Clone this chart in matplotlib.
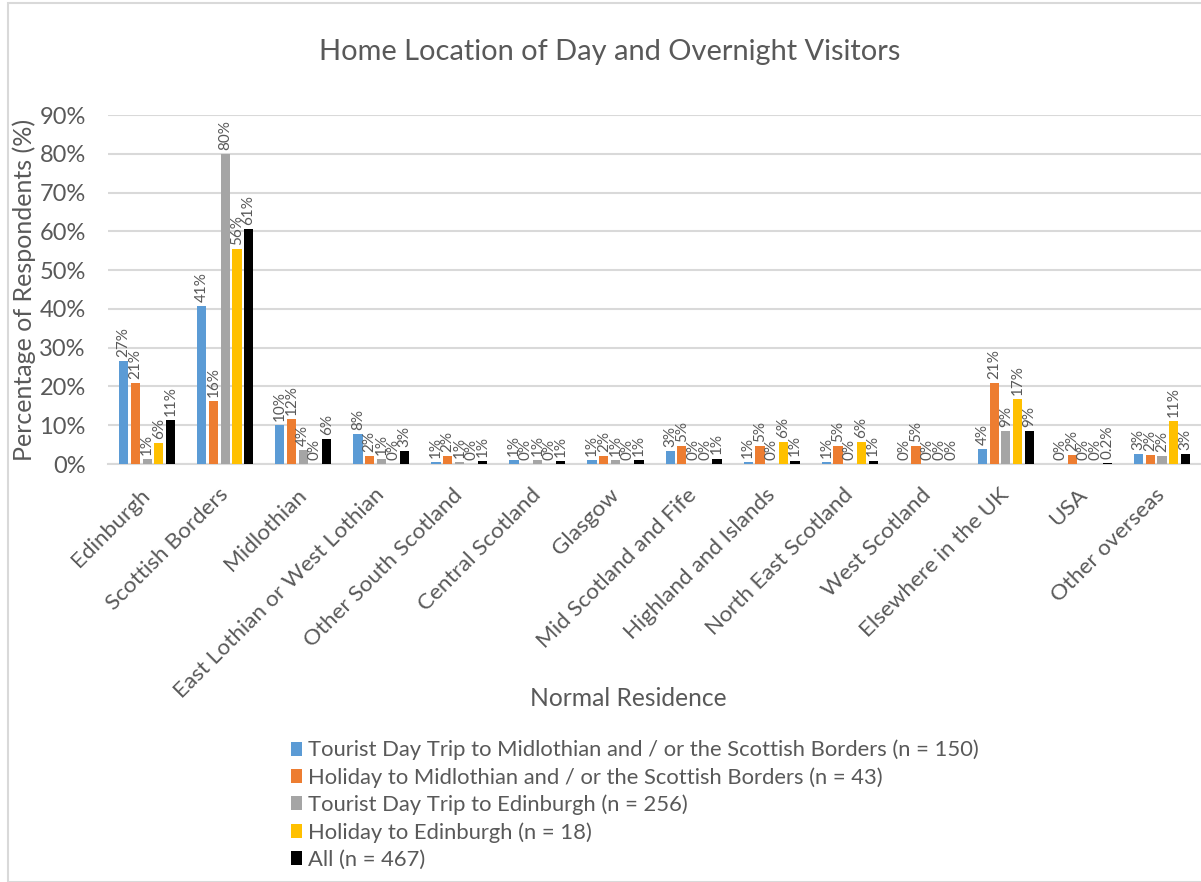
import numpy as np
import matplotlib.pyplot as plt
from matplotlib.patches import Rectangle

plt.rcParams['font.family'] = ['Lato', 'DejaVu Sans']

categories = ['Edinburgh', 'Scottish Borders', 'Midlothian', 'East Lothian or West Lothian',
              'Other South Scotland', 'Central Scotland', 'Glasgow', 'Mid Scotland and Fife',
              'Highland and Islands', 'North East Scotland', 'West Scotland', 'Elsewhere in the UK',
              'USA', 'Other overseas']

day_mid_borders = [26.6, 40.7, 10.0, 7.8, 0.6, 1.1, 1.1, 3.3, 0.6, 0.6, 0.0, 3.9, 0.0, 2.6]
hol_mid_borders = [20.9, 16.3, 11.6, 2.1, 2.1, 0.0, 2.1, 4.7, 4.7, 4.7, 4.7, 20.9, 2.3, 2.3]
day_edinburgh = [1.2, 80.0, 3.7, 1.2, 0.6, 1.1, 1.1, 0.0, 0.0, 0.0, 0.0, 8.6, 0.0, 2.0]
hol_edinburgh = [5.5, 55.5, 0.0, 0.0, 0.0, 0.0, 0.0, 0.0, 5.6, 5.6, 0.0, 16.7, 0.0, 11.1]
all_visitors = [11.3, 60.6, 6.4, 3.4, 0.7, 0.7, 1.1, 1.4, 0.9, 0.9, 0.0, 8.6, 0.2, 2.6]

series_names = ['Tourist Day Trip to Midlothian and / or the Scottish Borders (n = 150)',
                'Holiday to Midlothian and / or the Scottish Borders (n = 43)',
                'Tourist Day Trip to Edinburgh (n = 256)',
                'Holiday to Edinburgh (n = 18)',
                'All (n = 467)']
colors = ['#5b9bd5', '#ed7d31', '#a5a5a5', '#ffc000', '#000000']

series = [day_mid_borders, hol_mid_borders, day_edinburgh, hol_edinburgh, all_visitors]
text_col = '#595959'


def fmt(v):
    if 0 < v < 0.5:
        return '{:.1f}%'.format(v)
    return '{:.0f}%'.format(v)


fig = plt.figure(figsize=(12.01, 8.82), dpi=100)
ax = fig.add_axes([0.09, 0.4739, 0.91, 0.3957])

x = np.arange(len(categories))
step = 0.15
width = 0.118
for i, (vals, name, c) in enumerate(zip(series, series_names, colors)):
    pos = x + (i - 2) * step
    ax.bar(pos, vals, width, color=c, label=name, zorder=3)
    for px, v in zip(pos, vals):
        ax.annotate(fmt(v), (px, v), xytext=(0, 3), textcoords='offset points',
                    rotation=90, ha='center', va='bottom', fontsize=11, color=text_col)

ax.set_xlim(-0.5, len(categories) - 0.5)
ax.set_ylim(0, 90)
ax.set_yticks(np.arange(0, 91, 10))
ax.set_yticklabels(['{}%'.format(t) for t in range(0, 91, 10)], fontsize=17, color=text_col)
ax.yaxis.grid(True, color='#d9d9d9', linewidth=1.5, zorder=0)
ax.set_xticks(x)
ax.set_xticklabels(categories, rotation=45, ha='right', va='center', rotation_mode='anchor',
                   fontsize=16.2, color=text_col)
ax.tick_params(axis='y', length=0, pad=16)
ax.tick_params(axis='x', length=0, pad=20)
for s in ['top', 'right', 'left']:
    ax.spines[s].set_visible(False)
ax.spines['bottom'].set_color('#d9d9d9')
ax.spines['bottom'].set_linewidth(1.5)

ax.set_ylabel('Percentage of Respondents (%)', fontsize=18, color=text_col)
ax.yaxis.set_label_coords(-72 / 1093, 0.5)
fig.text(0.523, 1 - 698 / 882, 'Normal Residence', fontsize=17.7, color=text_col,
         ha='center', va='center')
fig.text(0.508, 1 - 52 / 882, 'Home Location of Day and Overnight Visitors', fontsize=20.9,
         color=text_col, ha='center', va='center')

fig.legend(loc='upper left', bbox_to_anchor=(282 / 1201, 1 - 731 / 882), frameon=False,
           fontsize=15.8, labelcolor=text_col, handlelength=0.5, handleheight=0.6,
           handletextpad=0.3, labelspacing=0.31, borderaxespad=0)

fig.patches.append(Rectangle((8 / 1201, 0), 1.2, 1 - 3 / 882, transform=fig.transFigure,
                             fill=False, edgecolor='#d9d9d9', linewidth=1.5))

fig.savefig('out.png', dpi=100)
